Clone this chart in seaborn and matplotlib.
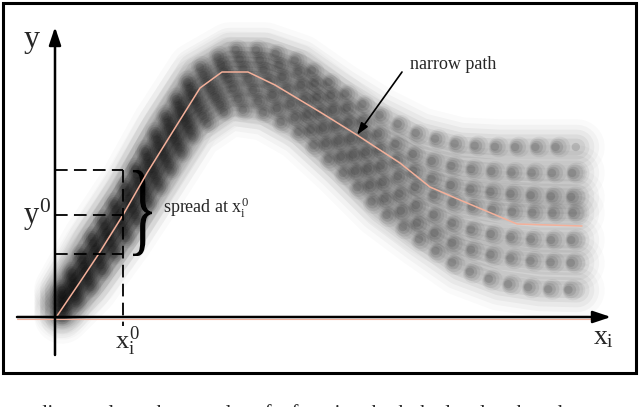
import numpy as np
import matplotlib
matplotlib.use('Agg')
import matplotlib.pyplot as plt
import seaborn as sns
from matplotlib.patches import Rectangle, PathPatch
from matplotlib.textpath import TextPath
from matplotlib.font_manager import FontProperties
from matplotlib.transforms import Affine2D

sns.set_theme(style='white')
plt.rcParams['font.family'] = ['Liberation Serif', 'DejaVu Serif']
plt.rcParams['mathtext.fontset'] = 'custom'
plt.rcParams['mathtext.rm'] = 'Liberation Serif'
plt.rcParams['mathtext.it'] = 'Liberation Serif'

# sample trajectories (picture coordinates, y grows downwards)
traj_x = [62, 90, 125, 160, 195, 230, 265, 300, 340, 380, 420, 460, 500, 540, 577]
traj_a = [290, 240, 187, 124, 70, 50, 50, 62, 90, 115, 135, 145, 147, 147, 147]
traj_b = [295, 248, 195, 134, 80, 59, 60, 72, 102, 135, 158, 168, 172, 173, 173]
traj_c = [300, 256, 204, 144, 90, 68, 70, 84, 115, 150, 175, 188, 193, 196, 197]
traj_d = [304, 264, 213, 155, 100, 78, 80, 96, 128, 165, 190, 205, 211, 213, 213]
traj_e = [308, 272, 222, 165, 110, 88, 91, 108, 142, 180, 208, 227, 236, 240, 240]
traj_f = [312, 280, 231, 176, 121, 98, 102, 120, 156, 195, 225, 247, 257, 262, 263]
traj_g = [316, 288, 240, 187, 132, 108, 113, 133, 170, 210, 240, 268, 283, 289, 290]
trajectories = [traj_a, traj_b, traj_c, traj_d, traj_e, traj_f, traj_g]

# the narrow path
path_x = [57, 80, 98, 123, 147, 175, 200, 222, 248, 275, 300, 320, 357, 400, 430, 460, 517, 582]
path_y = [316, 282, 255, 215, 173, 128, 88, 72, 72, 85, 100, 112, 135, 163, 187, 200, 224, 226]

# point x_i^0 and the spread there
x0 = 123
y_top, y_mid, y_bot = 170, 215, 254
origin = (55, 317)

fig = plt.figure(figsize=(6.4, 4.07), dpi=100)
ax = fig.add_axes([0, 0, 1, 1])
ax.set_xlim(0, 640)
ax.set_ylim(407, 0)
ax.axis('off')

# blurred dotted band
gap = 14.5  # dot spacing in points
for ty in trajectories:
    for lw, a in [(40, 0.02), (32, 0.03), (25, 0.04), (18, 0.05), (12, 0.055)]:
        ax.plot(traj_x, ty, color='black', lw=lw, alpha=a,
                solid_capstyle='round', solid_joinstyle='round')
    for lw, a in [(15, 0.06), (12, 0.08), (9, 0.11), (6, 0.14)]:
        ax.plot(traj_x, ty, color='#1a1a1a', lw=lw, alpha=a,
                linestyle=(0, (0.01, gap / lw)), dash_capstyle='round')

sns.lineplot(x=path_x, y=path_y, ax=ax, color='#f4b09a', lw=1.1,
             sort=False, estimator=None)

# axes with arrows
ax.annotate('', xy=(origin[0], 27), xytext=(origin[0], 355),
            arrowprops=dict(arrowstyle='-|>,head_length=0.9,head_width=0.3',
                            color='black', lw=1.8, shrinkA=0, shrinkB=0))
ax.annotate('', xy=(611, origin[1]), xytext=(17, origin[1]),
            arrowprops=dict(arrowstyle='-|>,head_length=0.9,head_width=0.3',
                            color='black', lw=1.8, shrinkA=0, shrinkB=0))
ax.plot([17, 600], [origin[1] + 2.2] * 2, color='#f4b09a', lw=0.8)

# dashed guides
dash = (0, (7, 3.5))
ax.plot([x0, x0], [y_top, 326], color='black', lw=1.3, linestyle=dash)
for yy in (y_top, y_mid, y_bot):
    ax.plot([origin[0], x0], [yy, yy], color='black', lw=1.3, linestyle=dash)

# brace
tp = TextPath((0, 0), '}', size=1, prop=FontProperties(family='Liberation Serif'))
ext = tp.get_extents()
bx0, bx1, by0, by1 = 133, 152, 170, 256
tr = (Affine2D().translate(-ext.x0, -ext.y0)
      .scale((bx1 - bx0) / ext.width, -(by1 - by0) / ext.height)
      .translate(bx0, by1))
ax.add_patch(PathPatch(tr.transform_path(tp), color='black', lw=0))

# labels
ax.text(32, 40, 'y', fontsize=23, ha='center', va='center')
ax.text(37, 215, r'$y^0$', fontsize=22, ha='center', va='center')
ax.text(127, 341, r'$x_i^0$', fontsize=19, ha='center', va='center')
ax.text(603, 338, r'$x_i$', fontsize=20, ha='center', va='center')
ax.text(163, 214, r'spread at $x_i^0$', fontsize=13, va='baseline')
ax.text(410, 69, 'narrow path', fontsize=13, va='baseline')
ax.annotate('', xy=(357, 135), xytext=(402, 72),
            arrowprops=dict(arrowstyle='-|>,head_length=0.6,head_width=0.2',
                            color='black', lw=1.2, shrinkA=0, shrinkB=0))

# frame
ax.add_patch(Rectangle((3, 3), 633, 370, fill=False, edgecolor='black', lw=2.2))

# clipped caption line below the frame
ax.text(37, 419, 'dictors along the samples of a function, both the local path and',
        fontsize=15, va='baseline')

fig.savefig('out.png', dpi=100)
